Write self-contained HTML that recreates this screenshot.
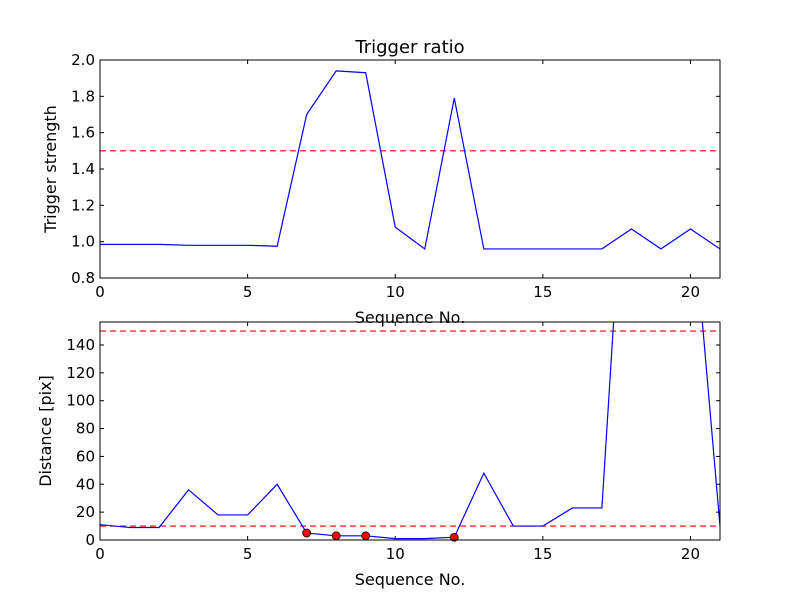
<!DOCTYPE html>
<html><head><meta charset="utf-8"><style>body{margin:0;background:#fff}svg text{font-family:"DejaVu Sans","Liberation Sans",sans-serif}</style></head>
<body>
<svg id="c" width="800" height="600" xmlns="http://www.w3.org/2000/svg"></svg>
<script>
const seq = [0,1,2,3,4,5,6,7,8,9,10,11,12,13,14,15,16,17,18,19,20,21];
const ratio = [0.985,0.985,0.985,0.98,0.98,0.98,0.975,1.70,1.94,1.93,1.08,0.96,1.79,0.96,0.96,0.96,0.96,0.96,1.07,0.96,1.07,0.96];
const dist = [11,9,9,36,18,18,40,5,3,3,1,1,2,48,10,10,23,23,360,400,255,10];
const markIdx = [7,8,9,12];
const xTicks = [0,5,10,15,20];
const topTicks = [0.8,1.0,1.2,1.4,1.6,1.8,2.0];
const botTicks = [0,20,40,60,80,100,120,140];
const ratioThresh = [1.5];
const distThresh = [150,10];

const svg = document.getElementById('c');
const NS = 'http://www.w3.org/2000/svg';
function mk(t, a, p){const e=document.createElementNS(NS,t);for(const k in a)e.setAttribute(k,a[k]);(p||svg).appendChild(e);return e;}

function panel(name, top, bot, ymin, ymax, yTicks, fmt, vals, thr, ylabel, title, marks){
  const L=100,R=720;
  const x=v=>L+(v-0)/(21-0)*(R-L);
  const y=v=>bot-(v-ymin)/(ymax-ymin)*(bot-top);
  const g=mk('g',{});
  
  
  const cid='clip-'+name;
  const cp=mk('clipPath',{id:cid},g); mk('rect',{x:L,y:top,width:R-L,height:bot-top},cp);
  thr.forEach(t=>{const l=mk('line',{x1:L,x2:R,y1:y(t),y2:y(t),stroke:'#f00','stroke-width':1.2,'stroke-dasharray':'6,4','clip-path':`url(#${cid})`},g);
    
    });
  const pl=mk('polyline',{points:vals.map((v,i)=>x(seq[i])+','+y(v)).join(' '),fill:'none',stroke:'#00f','stroke-width':1.2,'clip-path':`url(#${cid})`},g);
  
  
  (marks||[]).forEach(i=>{const c=mk('circle',{cx:x(seq[i]),cy:y(vals[i]),r:4,fill:'#f00',stroke:'#000','stroke-width':0.8},g);
    
    });
  const fr=mk('rect',{x:L,y:top,width:R-L,height:bot-top,fill:'none',stroke:'#000','stroke-width':1},g);
  
  
  xTicks.forEach(t=>{mk('line',{x1:x(t),x2:x(t),y1:bot,y2:bot-4,stroke:'#000'},g);mk('line',{x1:x(t),x2:x(t),y1:top,y2:top+4,stroke:'#000'},g);
    const tx=mk('text',{x:x(t),y:bot+19,'text-anchor':'middle','font-size':15},g);tx.textContent=t;
    
    });
  yTicks.forEach(t=>{mk('line',{x1:L,x2:L+4,y1:y(t),y2:y(t),stroke:'#000'},g);mk('line',{x1:R,x2:R-4,y1:y(t),y2:y(t),stroke:'#000'},g);
    const tx=mk('text',{x:L-5,y:y(t)+5,'text-anchor':'end','font-size':15},g);tx.textContent=fmt(t);
    
    });
  const xl=mk('text',{x:410,y:bot+45,'text-anchor':'middle','font-size':16},g);xl.textContent='Sequence No.';
  
  
  const yl=mk('text',{x:0,y:0,'text-anchor':'middle','font-size':16,transform:`translate(${name==='top-panel'?56:51},${(top+bot)/2}) rotate(-90)`},g);yl.textContent=ylabel;
  
  
  if(title){const tt=mk('text',{x:410,y:53,'text-anchor':'middle','font-size':18},g);tt.textContent=title;
    
    }
}
panel('top-panel',60,278,0.8,2.0,topTicks,t=>t.toFixed(1),ratio,ratioThresh,'Trigger strength','Trigger ratio',null);
panel('bottom-panel',322,540,0,156.5,botTicks,t=>String(t),dist,distThresh,'Distance [pix]',null,markIdx);
</script>
</body></html>
